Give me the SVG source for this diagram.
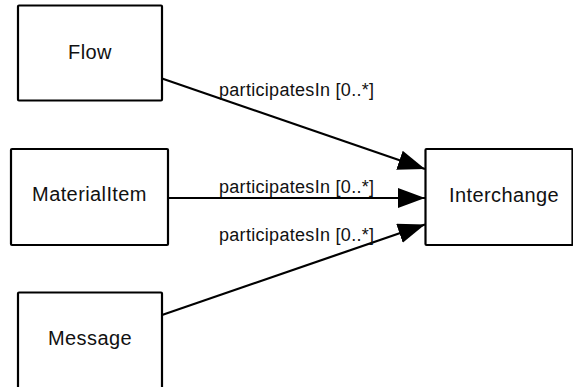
<svg xmlns="http://www.w3.org/2000/svg" width="573" height="387" viewBox="0 0 573 387">
<style>
.box{fill:#fff;stroke:#000;stroke-width:2.2}
.nt{font-family:"Liberation Sans",Arial,sans-serif;font-size:20px;letter-spacing:0.4px;fill:#111;text-anchor:middle}
.lt{font-family:"Liberation Sans",Arial,sans-serif;font-size:18px;letter-spacing:0.3px;fill:#111}
.edge{stroke:#000;stroke-width:2.2;fill:none}
</style>
<defs>
<marker id="arr" markerUnits="userSpaceOnUse" markerWidth="30" markerHeight="22" refX="27" refY="10" orient="auto" viewBox="0 0 30 22">
<path d="M0,0 L27,10 L0,20 z" fill="#000"/>
</marker>
</defs>
<rect width="573" height="387" fill="#fff"/>
<g id="connectors">
<line class="edge" x1="162" y1="78.5" x2="425" y2="169" marker-end="url(#arr)"/>
<line class="edge" x1="168" y1="198" x2="425" y2="198" marker-end="url(#arr)"/>
<line class="edge" x1="162" y1="315" x2="425" y2="224.5" marker-end="url(#arr)"/>
<text class="lt" x="219" y="96">participatesIn [0..*]</text>
<text class="lt" x="219" y="193">participatesIn [0..*]</text>
<text class="lt" x="219" y="241">participatesIn [0..*]</text>
</g>
<g id="node-flow">
<rect class="box" x="18" y="5.5" width="144" height="95" rx="1"/>
<text class="nt" x="90" y="59">Flow</text>
</g>
<g id="node-materialitem">
<rect class="box" x="11" y="149" width="157" height="96" rx="1"/>
<text class="nt" x="89.5" y="201">MaterialItem</text>
</g>
<g id="node-message">
<rect class="box" x="18" y="292.5" width="144" height="96" rx="1"/>
<text class="nt" x="90" y="345">Message</text>
</g>
<g id="node-interchange">
<rect class="box" x="425.5" y="149" width="147" height="96" rx="1"/>
<text class="nt" x="504" y="202">Interchange</text>
</g>
</svg>
